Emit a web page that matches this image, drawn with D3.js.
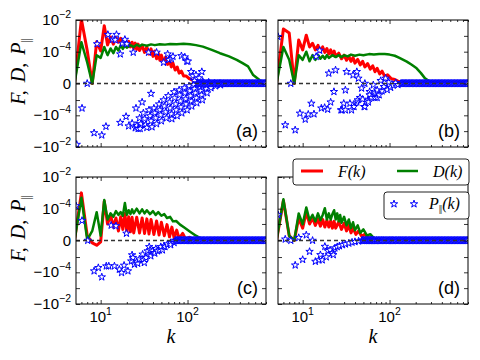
<!DOCTYPE html>
<html>
<head>
<meta charset="utf-8">
<script src="https://cdn.jsdelivr.net/npm/d3@7"></script>
<style>
body { margin: 0; background: #fff; }
text { font-family: "Liberation Sans", Arial, sans-serif; }
.math { font-family: "Liberation Serif", "Times New Roman", serif; font-style: italic; }
</style>
</head>
<body>
<svg id="chart" width="480" height="360"></svg>
<script>
// ---- data: [k, value] ----
var fA = [[5,0],[6,1.1e-2],[7,1.2e-4],[8,0],[9,4.3e-4],[10,1.1e-4],[11,4.3e-3],[12,2.7e-4],[13,8.5e-4],[14,3e-4],[15,8e-4],[16,4e-4],[17,7e-4],[18,3e-4],[19,5e-4],[20,2.5e-4],[21,4.5e-4],[22,2e-4],[23,4e-4],[24,1.6e-4],[25,3.5e-4],[26,1.4e-4],[27,3e-4],[28,1.2e-4],[30,2.5e-4],[32,9e-5],[34,2e-4],[36,7e-5],[38,1.5e-4],[40,5e-5],[42,1.1e-4],[44,3.5e-5],[46,8e-5],[48,2.8e-5],[50,6e-5],[53,2e-5],[56,4.5e-5],[59,1.5e-5],[62,3e-5],[65,1e-5],[68,1.8e-5],[72,6e-6],[76,1e-5],[80,3.5e-6],[85,5e-6],[90,2e-6],[96,2e-6],[105,1e-6],[115,6e-7],[125,2e-7],[140,5e-8],[160,0],[800,0]];
var dA = [[5,0],[6,4e-4],[7,2e-5],[8,0],[9,6e-5],[10,4e-5],[11,2e-4],[12,6e-5],[13,1.6e-4],[14,8e-5],[15,2e-4],[16,1.2e-4],[17,2.6e-4],[18,1.5e-4],[19,2.5e-4],[20,1.8e-4],[22,2.6e-4],[24,2e-4],[26,2.8e-4],[28,2.2e-4],[30,2.8e-4],[34,2.4e-4],[38,2.9e-4],[42,2.6e-4],[48,3e-4],[55,2.8e-4],[63,3.1e-4],[75,3e-4],[90,3.2e-4],[107,3e-4],[125,2.6e-4],[150,2.1e-4],[190,1.3e-4],[236,8e-5],[300,5e-5],[368,3e-5],[430,1.8e-5],[497,1.1e-5],[570,2.4e-6],[680,6e-7],[800,0]];
var pA = [[5.3,-7e-3],[6.1,-3.5e-5],[7,0],[8.4,-1.3e-3],[9.1,3.1e-4],[10.3,-1.8e-3],[11.5,-5.1e-4],[12.1,1.2e-3],[13.7,5.9e-4],[15.2,1.2e-3],[14.7,5.5e-4],[16.8,-2.9e-4],[16.8,7e-5],[17.8,3.3e-4],[19,5.9e-4],[19.6,-1.2e-4],[20,3.1e-4],[21,-4.8e-4],[23,-3.2e-4],[23.7,9e-5],[25,-6.3e-4],[25.5,-3.5e-5],[30,-1.4e-5],[35.6,9e-5],[38,-3.3e-6],[44,9e-5],[53,2e-5],[59,7e-5],[61,3e-5],[65,3.5e-5],[68,4.9e-5],[85,5.4e-5],[93,4.5e-5],[98,2.4e-5],[101,2.4e-5],[110,4.5e-6],[115,2e-6],[125,2.4e-6],[136,1.2e-6],[146,4.5e-6],[120,5e-7],[150,3e-7],[175,2e-7],
  [26,-4.5e-4],[27,-7e-4],[28,-1.5e-4],[29,-3.5e-4],[28.5,-7e-4],[31,-7.2e-5],[32,-1.7e-4],[33,-4e-4],[34,-6e-4],[36,-4.6e-5],[37,-1.1e-4],[38,-2.3e-4],[39,-5.5e-4],[41,-3.5e-5],[42,-7.2e-5],[43,-1.5e-4],[44,-3.5e-4],[47,-1.9e-5],[48,-4.6e-5],[49,-9.6e-5],[50,-2.3e-4],[53,-1e-5],[54,-2.6e-5],[56,-6.2e-5],[57,-1.5e-4],[60,-5e-6],[62,-1.4e-5],[63,-3.5e-5],[65,-8.3e-5],[66,-1.7e-4],[70,-2.4e-6],[71,-7.2e-6],[73,-1.9e-5],[74,-4.6e-5],[76,-1.1e-4],[80,-1.6e-6],[81,-4.3e-6],[83,-1.2e-5],[84,-3e-5],[86,-7.2e-5],[92,-9e-7],[93,-3e-6],[95,-8.5e-6],[96,-1.9e-5],[99,-4.6e-5],[104,-4.4e-7],[106,-2e-6],[108,-5.1e-6],[110,-1.2e-5],[112,-2.6e-5],[118,-2.4e-7],[120,-1.2e-6],[123,-3e-6],[126,-7.2e-6],[128,-1.6e-5],[136,-7.5e-8],[139,-6.6e-7],[142,-2e-6],[145,-4.3e-6],[148,-1e-5],[155,0],[160,-4.4e-7],[164,-1.2e-6],[168,-3e-6],[178,0],[182,-2.4e-7],[186,-9e-7],[205,0],[210,-4.4e-7],[235,0],[240,-2.4e-7]];

var fB = [[5,0],[6,2.7e-3],[7,1.5e-3],[8,0],[9,5.5e-4],[10,1.3e-4],[11,1.1e-3],[12,2e-4],[13,3.4e-4],[14,1.3e-4],[15,2.5e-4],[16,1e-4],[17,2e-4],[18,9e-5],[19,1.6e-4],[20,7e-5],[21,1.3e-4],[22,6e-5],[23,1.1e-4],[24,5e-5],[26,8e-5],[28,3.5e-5],[30,6e-5],[32,2.8e-5],[34,5e-5],[36,2.4e-5],[38,4.2e-5],[40,1.8e-5],[43,3.2e-5],[46,1.4e-5],[49,2.4e-5],[52,1e-5],[56,1.7e-5],[60,7e-6],[64,1.2e-5],[68,4.5e-6],[72,8e-6],[77,3e-6],[82,5e-6],[88,1.8e-6],[95,2.5e-6],[105,1e-6],[115,8e-7],[125,4e-7],[140,2e-7],[160,0],[800,0]];
var dB = [[5,0],[6,2e-4],[7,3e-5],[8,0],[9,6e-5],[10,3e-5],[11,1e-4],[12,2.4e-5],[13,6e-5],[14,3e-5],[15,6e-5],[16,3.5e-5],[17,5.5e-5],[18,3.5e-5],[19,6e-5],[20,4e-5],[22,6e-5],[24,4.5e-5],[26,6e-5],[28,4.5e-5],[30,6e-5],[33,5e-5],[36,6.5e-5],[40,5.5e-5],[45,6.5e-5],[50,6e-5],[58,7e-5],[66,6.5e-5],[76,7e-5],[88,7e-5],[100,6.5e-5],[115,5.5e-5],[130,4e-5],[158,2.3e-5],[180,1.4e-5],[205,8e-6],[230,3.5e-6],[256,1.1e-6],[304,1.2e-7],[350,0],[800,0]];
var pB = [[5.2,8.9e-4],[6.3,-4.1e-4],[7.3,0],[8.2,-8.5e-4],[9.3,-7.5e-5],[10.7,-1.8e-4],[11.6,-8.7e-5],[12.6,-1.7e-5],[13.5,-8.3e-5],[14.3,4.9e-5],[15.7,1.2e-4],[16.4,-3.5e-5],[17.9,-3.2e-5],[19.4,-4.2e-5],[20,3.4e-6],[21,-1.4e-5],[22.9,-2.3e-6],[23.9,6e-6],[27.6,-4.6e-5],[28.5,-4.6e-5],[29.7,-1.7e-5],[31,-1.6e-6],[31,-4.6e-5],[32,4.5e-6],[35,-1.7e-5],[36.5,-4.6e-5],[38,2.4e-6],[39,-2.8e-5],[42,4.5e-6],[42,-1.4e-5],[43,-1e-5],[43.8,1.1e-6],[45.7,-6.8e-6],[47.7,-1e-6],[49,-9e-6],[51,-2.8e-5],[52,0],[52,-2.8e-5],[57,-1e-5],[57,-1.4e-5],[59,-2.3e-6],[59,-4.3e-6],[62,-6.8e-6],[65,-2.4e-7],[68,-6.8e-6],[68,-3e-6],[72,-6.8e-6],[72,-1.6e-6],[76,-4.3e-6],[79,5e-7],[82,-2e-6],[86,-6e-7],[90,1.1e-6],[94,-1.5e-6],[98,2e-7],[103,-8e-7],[110,-3e-7],[118,1e-7],[125,-2e-7]];

var fC = [[5,0],[6,1e-3],[7,1e-6],[8,-4e-7],[9,-1e-6],[10,-2e-7],[11,3e-4],[12,1e-5],[13,4e-5],[14,6e-6],[15,2.5e-5],[16,3e-6],[17,3e-5],[18,4e-6],[19,5e-5],[20,2.5e-6],[21,3e-5],[22,2.5e-6],[23,2.8e-5],[24,2e-6],[26,2.8e-5],[28,2e-6],[30,2.5e-5],[32,1.8e-6],[34,2.2e-5],[36,1.6e-6],[38,2e-5],[41,1.4e-6],[44,1.6e-5],[47,1.2e-6],[50,1.3e-5],[54,1e-6],[58,9e-6],[62,7e-7],[66,6e-6],[70,5e-7],[75,3.5e-6],[80,3e-7],[88,1.8e-6],[96,1e-7],[105,6e-7],[120,0],[800,0]];
var dC = [[5,0],[6,5e-4],[7,1e-7],[8,3e-6],[9,6e-5],[10,1e-6],[11,3.5e-4],[12,2e-5],[13,5e-5],[14,3e-5],[15,7e-5],[16,4e-5],[17,6e-5],[18,3.5e-5],[19,2.3e-4],[20,4e-5],[21,8e-5],[22,4.5e-5],[23,9e-5],[24,5e-5],[26,1e-4],[28,5e-5],[30,9e-5],[32,5e-5],[34,8e-5],[37,4.5e-5],[40,7e-5],[43,4e-5],[46,6e-5],[50,3.5e-5],[54,4.5e-5],[58,2.5e-5],[63,3e-5],[68,1.5e-5],[74,1.6e-5],[82,9e-6],[90,6e-6],[107,2.6e-6],[125,1e-6],[140,4.4e-7],[170,1e-7],[196,0],[800,0]];
var pC = [[5.2,1.5e-4],[6.1,1.7e-5],[7.1,0],[8.4,-8.3e-5],[9.4,-5.1e-5],[10.3,-2e-4],[11.6,-4e-5],[12.4,-4e-5],[13.2,8e-6],[15,7.2e-6],[14.4,-4e-5],[16.4,-6.5e-5],[17.4,-1.06e-4],[18.6,-3.6e-5],[19.8,1.8e-6],[20.6,-8.3e-5],[22.5,-1.9e-5],[23,-7.2e-6],[23.5,-1.1e-5],[24.5,-3.1e-5],[26,-2.1e-5],[26.7,-2.7e-5],[27.9,-1.4e-5],[30.4,-6.4e-6],[31,-1.6e-5],[31.8,-2.4e-5],[33.2,-1.1e-5],[34.7,-3.6e-6],[36.2,-1.5e-6],[37,-3e-6],[37.8,-8.5e-6],[39.5,-3.6e-6],[41.3,-4.9e-6],[42,-5.4e-6],[43.2,-2.3e-6],[45.1,-3.6e-6],[47.5,-3e-6],[49.2,-1.5e-6],[51.4,-3e-6],[53.7,-1.2e-6],[55,-1.5e-6],[58.6,-7e-7],[64,-3.7e-7],[64,-9e-7],[70,-3.7e-7]];

var fD = [[5,0],[6,3.3e-4],[7,1e-6],[8,0],[9,2.5e-5],[10,5e-6],[11,6e-5],[12,1e-5],[13,2.5e-5],[14,8e-6],[15,2.2e-5],[16,7e-6],[17,2e-5],[18,6e-6],[19,1.8e-5],[20,6e-6],[21,1.6e-5],[22,5e-6],[23,1.5e-5],[24,5e-6],[26,1.4e-5],[28,4e-6],[30,1.1e-5],[32,3e-6],[34,8e-6],[36,2e-6],[38,5e-6],[41,1.4e-6],[44,3e-6],[48,8e-7],[52,1.5e-6],[57,4e-7],[63,6e-7],[70,1e-7],[80,0],[800,0]];
var dD = [[5,0],[6,3.9e-4],[7,1e-6],[8,0],[9,5e-5],[10,9.5e-6],[11,1.2e-4],[12,1.8e-5],[13,4e-5],[14,1.5e-5],[15,5e-5],[16,1.8e-5],[17,4e-5],[18,1.07e-4],[19,2e-5],[20,5e-5],[21,2e-5],[22,4.5e-5],[23,8e-5],[24,2e-5],[25,5e-5],[26,1.5e-5],[27,4e-5],[28,1.2e-5],[30,3e-5],[32,8e-6],[34,2e-5],[36,5e-6],[38,1.3e-5],[40,3.5e-6],[43,8e-6],[46,2e-6],[50,4e-6],[55,1e-6],[60,1.5e-6],[66,4e-7],[75,1e-7],[90,0],[800,0]];
var pD = [[5.2,4e-5],[6.3,2e-7],[7.3,0],[8.2,-3.5e-5],[9,5e-7],[10,-1.5e-5],[11,1.2e-6],[12,-4e-6],[13,0],[14,-2e-5],[15.4,-1.6e-5],[16,-7e-6],[16.8,-1.6e-5],[18,-1.4e-6],[18.7,-1e-5],[19.5,-3.5e-6],[20.7,-3e-6],[22,-5e-6],[22.5,-7e-6],[23.5,-2e-6],[25,-1.5e-6],[26.5,-1.2e-6],[28.8,-9e-7],[31,-7e-7],[34,-5e-7],[37,-3e-7],[40,-2e-7],[44,-1e-7]];

// P sits on zero along the whole tail of every panel
var tailK = [48,49,50,51,52,53,54,55,56,57,58,59,60,61,62,63,64,65,66,67,68,70,71,72,74,75,77,78,80,81,83,85,86,88,90,92,94,96,98,100,102,104,106,108,110,112,115,117,120,122,125,127,130,133,135,138,141,144,147,150,153,156,159,163,166,170,173,177,180,184,188,192,196,200,204,208,212,217,221,226,230,235,240,245,250,255,260,265,271,276,282,288,294,300,306,312,318,325,331,338,345,352,359,366,374,381,389,397,405,413,422,430,439,448,457,466,476,485,495,505,516,526,537,548,559,570,582,594,606,618,631,643,656,670,683,697,711,726,740,755,771,786,800];

var xMajor = [10, 100];
var xMinor = [6,7,8,9,20,30,40,50,60,70,80,90,200,300,400,500,600,700,800];
var yTicks = [-1e-2,-1e-3,-1e-4,-1e-5,0,1e-5,1e-4,1e-3,1e-2];
var yLabels = [[1e-2,'','−2'],[1e-4,'','−4'],[0,'0',null],[-1e-4,'−','−4'],[-1e-2,'−','−2']];

var panels = [
  { name: '(a)', F: fA, D: dA, P: pA, tailFrom: 130, left: 76, top: 20, yText: true, xText: false },
  { name: '(b)', F: fB, D: dB, P: pB, tailFrom: 135, left: 278, top: 20, yText: false, xText: false },
  { name: '(c)', F: fC, D: dC, P: pC, tailFrom: 72, left: 76, top: 177, yText: true, xText: true },
  { name: '(d)', F: fD, D: dD, P: pD, tailFrom: 48, left: 278, top: 177, yText: false, xText: true }
];

var W = 190, H = 127;
var svg = d3.select('#chart');

var x = d3.scaleLog().domain([5.2, 800]).range([0, W]);
var y = d3.scaleSymlog().constant(1e-6).domain([-1e-2, 1e-2]).range([H, 0]);

var line = d3.line()
    .x(function (d) { return x(d[0]); })
    .y(function (d) { return y(d[1]); });

var star = d3.symbol().type(d3.symbolStar).size(17);

function cleanAxis(g) {
    g.select('.domain').remove();
    g.selectAll('.tick line').attr('stroke', '#000').attr('stroke-width', 0.8);
}

panels.forEach(function (p, i) {
    var g = svg.append('g').attr('transform', 'translate(' + p.left + ',' + p.top + ')');

    g.append('clipPath').attr('id', 'clip' + i)
        .append('rect').attr('width', W).attr('height', H);
    var plot = g.append('g').attr('clip-path', 'url(#clip' + i + ')');

    plot.append('path').datum(p.F)
        .attr('d', line).attr('fill', 'none')
        .attr('stroke', '#ff0000').attr('stroke-width', 3).attr('stroke-linejoin', 'round');
    plot.append('path').datum(p.D)
        .attr('d', line).attr('fill', 'none')
        .attr('stroke', '#008000').attr('stroke-width', 2.5).attr('stroke-linejoin', 'round');

    var tail = tailK.filter(function (k) { return k >= p.tailFrom; })
        .map(function (k) { return [k, 0]; });
    plot.selectAll('.star')
        .data(p.P.concat(tail))
        .enter().append('path')
        .attr('class', 'star')
        .attr('d', star)
        .attr('transform', function (d) { return 'translate(' + x(d[0]) + ',' + y(d[1]) + ')'; })
        .attr('fill', '#fff').attr('stroke', '#0000ff').attr('stroke-width', 1);

    plot.append('line')
        .attr('x1', 0).attr('x2', W).attr('y1', y(0)).attr('y2', y(0))
        .attr('stroke', '#333').attr('stroke-width', 1.3).attr('stroke-dasharray', '4,3');

    // ticks, pointing inwards on all four sides
    g.append('g').call(d3.axisLeft(y).tickValues(yTicks).tickSize(-4).tickFormat('')).call(cleanAxis);
    g.append('g').attr('transform', 'translate(' + W + ',0)')
        .call(d3.axisRight(y).tickValues(yTicks).tickSize(-4).tickFormat('')).call(cleanAxis);
    g.append('g').call(d3.axisTop(x).tickValues(xMajor).tickSize(-4).tickFormat('')).call(cleanAxis);
    g.append('g').call(d3.axisTop(x).tickValues(xMinor).tickSize(-2).tickFormat('')).call(cleanAxis);
    g.append('g').attr('transform', 'translate(0,' + H + ')')
        .call(d3.axisBottom(x).tickValues(xMajor).tickSize(-4).tickFormat('')).call(cleanAxis);
    g.append('g').attr('transform', 'translate(0,' + H + ')')
        .call(d3.axisBottom(x).tickValues(xMinor).tickSize(-2).tickFormat('')).call(cleanAxis);

    g.append('rect').attr('width', W).attr('height', H)
        .attr('fill', 'none').attr('stroke', '#000').attr('stroke-width', 1);

    if (p.yText) {
        yLabels.forEach(function (l) {
            var t = g.append('text').attr('x', -5).attr('y', y(l[0]) + 5)
                .attr('text-anchor', 'end').attr('font-size', 15);
            if (l[2] === null) {
                t.text(l[1]);
            } else {
                t.append('tspan').text(l[1] + '10');
                t.append('tspan').attr('dy', -7).attr('font-size', 10.5).text(l[2]);
            }
        });
        var lab = svg.append('text').attr('class', 'math')
            .attr('transform', 'translate(25,' + (p.top + 52) + ') rotate(-90)')
            .attr('text-anchor', 'middle').attr('font-size', 20).attr('word-spacing', 3);
        lab.append('tspan').text('F, D, P');
        lab.append('tspan').attr('dy', 5).attr('font-size', 13).attr('font-style', 'normal')
            .attr('letter-spacing', -1).text('||');
    }
    if (p.xText) {
        xMajor.forEach(function (v) {
            var t = g.append('text').attr('x', x(v)).attr('y', H + 18)
                .attr('text-anchor', 'middle').attr('font-size', 15);
            t.append('tspan').text('10');
            t.append('tspan').attr('dy', -7).attr('font-size', 10.5).text(String(Math.log10(v)));
        });
        g.append('text').attr('class', 'math')
            .attr('x', W / 2).attr('y', H + 39)
            .attr('text-anchor', 'middle').attr('font-size', 20).text('k');
    }
    g.append('text').attr('x', W - 8).attr('y', H - 10)
        .attr('text-anchor', 'end').attr('font-size', 18).text(p.name);
});

// ---- legend ----
var leg1 = svg.append('g').attr('transform', 'translate(293,159)');
leg1.append('rect').attr('width', 176).attr('height', 26).attr('rx', 3)
    .attr('fill', '#fff').attr('stroke', '#222').attr('stroke-width', 1);
leg1.append('line').attr('x1', 8).attr('x2', 30).attr('y1', 12).attr('y2', 12)
    .attr('stroke', '#ff0000').attr('stroke-width', 3);
leg1.append('text').attr('class', 'math').attr('x', 45).attr('y', 18).attr('font-size', 16).text('F(k)');
leg1.append('line').attr('x1', 104).attr('x2', 125).attr('y1', 12).attr('y2', 12)
    .attr('stroke', '#008000').attr('stroke-width', 2.5);
leg1.append('text').attr('class', 'math').attr('x', 140).attr('y', 18).attr('font-size', 16).text('D(k)');

var leg2 = svg.append('g').attr('transform', 'translate(384,192)');
leg2.append('rect').attr('width', 85).attr('height', 27).attr('rx', 3)
    .attr('fill', '#fff').attr('stroke', '#222').attr('stroke-width', 1);
[10, 30].forEach(function (sx) {
    leg2.append('path').attr('d', star).attr('transform', 'translate(' + sx + ',12)')
        .attr('fill', '#fff').attr('stroke', '#0000ff').attr('stroke-width', 1);
});
var pl = leg2.append('text').attr('class', 'math').attr('x', 45).attr('y', 17).attr('font-size', 16);
pl.append('tspan').text('P');
pl.append('tspan').attr('dy', 3).attr('font-size', 11).attr('font-style', 'normal')
    .attr('letter-spacing', -1).text('||');
pl.append('tspan').attr('dy', -3).attr('dx', 1).text('(k)');
</script>
</body>
</html>
